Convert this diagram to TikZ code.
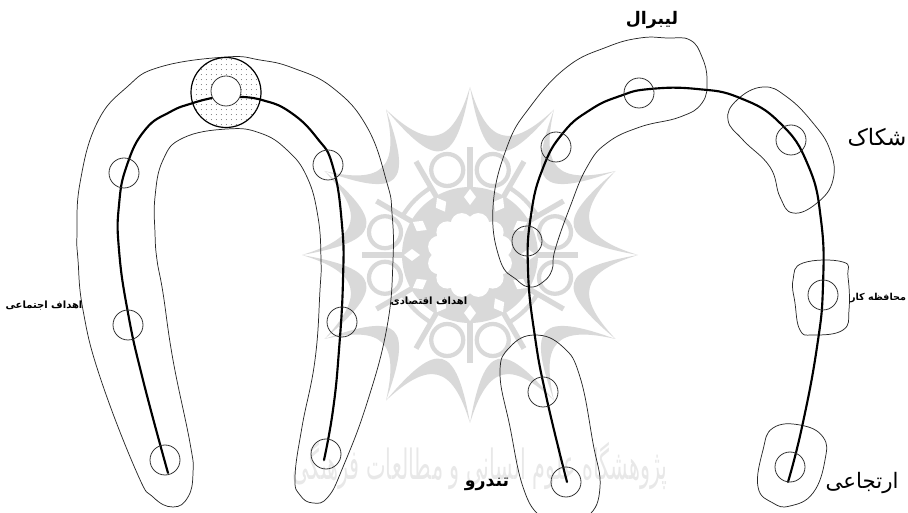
\documentclass[tikz,border=0pt]{standalone}
\usepackage{fontspec}
\usepackage{graphicx}
\usetikzlibrary{patterns.meta}
\TeXXeTstate=1
\newfontfamily\arabicfont[Script=Arabic]{DejaVu Sans}
\definecolor{wm}{gray}{0.85}
\definecolor{wmtext}{gray}{0.91}
\tikzset{
  outline/.style={draw=black!85,line width=0.55pt},
  spine/.style={draw=black,line width=1.6pt,line cap=round},
  dotc/.style={circle,draw=black!80,line width=0.6pt,minimum size=22.5pt,inner sep=0pt},
  lab/.style={font=\arabicfont\bfseries,text=black,inner sep=0pt},
}
\begin{document}
\begin{tikzpicture}[x=0.75pt,y=-0.75pt]
\useasboundingbox (0,0) rectangle (908,513);
\clip (0,0) rectangle (908,513);
% watermark rosette
\begin{scope}[shift={(470,255)}]
  \fill[wm] (0,0) circle (68);
  \foreach \a in {0,30,...,330}{
    \pgfmathsetmacro\b{\a+30}
    \fill[wm] (\a:168) .. controls (\a+9:112) and (\b-9:112) .. (\b:168)
              .. controls (\b-9:90) and (\a+9:90) .. (\a:168) -- cycle;
    \draw[wm,line width=4pt] (\a:60) -- (\a:108);
  }
  \foreach \a in {15,75,105,165,195,255,285,345}{
    \filldraw[fill=white,draw=wm,line width=3.2pt] (\a:88) circle (16);
  }
  \foreach \a in {45,135,225,315}{
    \draw[wm,line width=3.2pt] (\a-15:78) to[bend left=12] (\a+15:78);
  }
  \fill[white] (0,0) circle (30);
  \foreach \a in {15,45,...,345}{ \fill[white] (\a:32) circle (11); }
  \foreach \a in {0,30,...,330}{
    \fill[white,shift={(\a:58)}] (\a:8) -- (\a+90:6) -- (\a+180:8) -- (\a+270:6) -- cycle;
  }
\end{scope}
\node[font=\arabicfont\fontsize{15.6}{16}\selectfont,text=wmtext,inner sep=0pt] (wmt) at (480,466)
  {\scalebox{1}[2]{\beginR پژوهشگاه علوم انسانی و مطالعات فرهنگی\endR}};
% left figure
\draw[outline] plot[smooth cycle,tension=.75] coordinates {
 (226,57)(160,67)(127,87)(97,123)(80,183)(77,233)(78,260)(83,310)(100,377)(137,473)(153,497)(173,507)(188,497)(193,473)(190,443)(173,360)(163,293)(157,260)(155,233)(155,197)(163,160)(183,138)(227,129)(260,133)(287,150)(307,177)(318,217)(321,260)(320,290)(315,360)(302,427)(295,477)(300,495)(313,503)(328,497)(343,467)(367,403)(387,327)(393,260)(392,213)(387,183)(367,127)(333,88)(293,68)(260,60)};
\node[circle,draw=black,line width=0.9pt,minimum size=52.5pt,inner sep=0pt,fill=white,
      postaction={pattern={Dots[distance=4pt,radius=.4pt]},pattern color=black!80}] (ring) at (226,92.5) {};
\draw[spine] plot[smooth,tension=.8] coordinates {(168,473)(143,380)(128,313)(119,250)(119,205)(127,165)(145,130)(170,112)(193,103)(212,98)};
\draw[spine] plot[smooth,tension=.8] coordinates {(240,97)(262,100)(290,112)(317,138)(333,167)(342,225)(343,280)(339,350)(333,410)(324,460)};
\node[dotc,fill=white] (c0) at (226,91) {};
\node[dotc] (c1) at (124,173) {};
\node[dotc] (c2) at (128,325) {};
\node[dotc] (c3) at (165,460) {};
\node[dotc] (c4) at (328,165) {};
\node[dotc] (c5) at (342,322) {};
\node[dotc] (c6) at (326,454) {};
% right figure
\draw[outline] plot[smooth cycle,tension=.75] coordinates {
 (667,38)(690,40)(702,57)(707,80)(702,103)(680,117)(640,127)(607,143)(587,167)(570,207)(555,250)(552,270)(543,282)(530,287)(517,280)(500,260)(493,207)(507,147)(530,107)(567,67)(607,47)(640,38)};
\draw[outline] plot[smooth cycle,tension=.75] coordinates {
 (763,87)(737,100)(728,120)(743,140)(770,167)(780,197)(793,213)(817,203)(833,180)(830,150)(813,123)(787,97)};
\draw[outline] plot[smooth cycle,tension=.75] coordinates {
 (803,263)(843,262)(848,277)(849,310)(843,330)(813,335)(800,330)(795,303)(793,280)};
\draw[outline] plot[smooth cycle,tension=.75] coordinates {
 (535,335)(510,347)(500,373)(510,427)(523,487)(540,516)(560,522)(588,516)(600,487)(593,443)(580,377)(563,347)};
\draw[outline] plot[smooth cycle,tension=.75] coordinates {
 (800,425)(773,428)(763,450)(758,487)(773,503)(790,506)(813,493)(825,460)(823,437)};
\draw[spine] plot[smooth,tension=.8] coordinates {(567,482)(547,400)(535,337)(528,270)(531,215)(543,168)(563,133)(590,110)(620,96)(650,89)(697,89)(740,98)(780,123)(808,165)(821,220)(823,285)(817,347)(802,427)(788,482)};
\node[dotc] (r1) at (639,93) {};
\node[dotc] (r2) at (556,147) {};
\node[dotc] (r3) at (527,241) {};
\node[dotc] (r4) at (543,392) {};
\node[dotc] (r5) at (566,482) {};
\node[dotc] (r6) at (791,140) {};
\node[dotc] (r7) at (823,295) {};
\node[dotc] (r8) at (790,467) {};
% labels
\node[lab,font=\arabicfont\bfseries\fontsize{13}{13}\selectfont] (l1) at (652,20) {\beginR لیبرال\endR};
\node[lab,font=\arabicfont\fontsize{17}{17}\selectfont] (l2) at (877,137) {\beginR شکاک\endR};
\node[lab,font=\arabicfont\bfseries\fontsize{7.2}{7.2}\selectfont] (l3) at (878,298) {\beginR محافظه کار\endR};
\node[lab,font=\arabicfont\fontsize{16}{16}\selectfont] (l4) at (862,483) {\beginR ارتجاعی\endR};
\node[lab,font=\arabicfont\bfseries\fontsize{13}{13}\selectfont] (l5) at (487,484) {\beginR تندرو\endR};
\node[lab,font=\arabicfont\bfseries\fontsize{7.5}{7.5}\selectfont] (l6) at (44,306) {\beginR اهداف اجتماعی\endR};
\node[lab,font=\arabicfont\bfseries\fontsize{7.5}{7.5}\selectfont] (l7) at (429,301) {\beginR اهداف اقتصادی\endR};
\end{tikzpicture}
\end{document}
